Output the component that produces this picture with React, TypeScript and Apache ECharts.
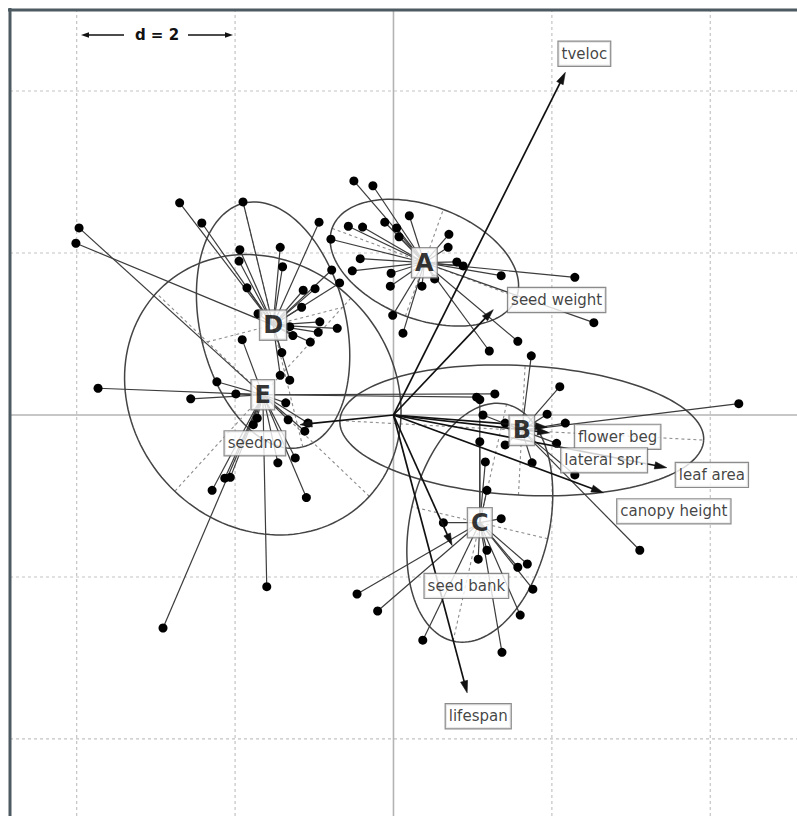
import React, { useEffect, useRef } from "react";
import * as echarts from "echarts";

// Row scores on PCA axes 1 and 2, grouped by class
const pointsA: [number, number][] = [
  [-0.5, 2.89], [-0.26, 2.83], [-0.57, 2.33], [-0.39, 2.32], [-0.11, 2.38], [0.04, 2.31],
  [0.07, 2.2], [0.2, 2.46], [0.7, 2.23], [0.69, 2.07], [-0.79, 2.17], [-0.42, 1.93],
  [0.8, 1.89], [0.88, 1.84], [-0.03, 1.75], [-0.04, 1.59], [0.36, 1.59], [0.52, 1.68],
  [1.36, 1.72], [2.29, 1.7], [2.53, 1.14], [1.57, 0.91], [1.21, 0.79], [-0.01, 1.23],
  [0.12, 1.01], [-0.52, 1.78],
];
const pointsB: [number, number][] = [
  [1.74, 0.73], [2.1, 0.35], [4.36, 0.14], [1.94, 0.01], [2.17, -0.1], [2.06, -0.35],
  [2.29, -0.74], [1.75, -0.59], [1.13, 0.0], [1.41, -0.1], [1.41, -0.37], [3.11, -1.67],
];
const pointsC: [number, number][] = [
  [0.63, -1.33], [1.36, -1.28], [1.07, -1.78], [1.18, -1.67], [1.57, -1.88], [1.69, -1.84],
  [1.76, -2.15], [1.6, -2.47], [1.37, -2.93], [0.37, -2.78], [-0.46, -2.21], [-0.2, -2.42],
  [1.09, -0.33], [1.16, -0.58], [1.18, -0.93], [1.09, 0.19],
];
const pointsD: [number, number][] = [
  [-2.7, 2.62], [-2.42, 2.37], [-4.01, 2.12], [-1.9, 2.63], [-1.94, 2.04], [-1.95, 1.9],
  [-1.85, 1.57], [-1.43, 2.07], [-1.4, 1.83], [-0.94, 2.38], [-1.14, 1.54], [-0.99, 1.56],
  [-1.16, 1.33], [-0.93, 1.15], [-0.95, 1.02], [-1.05, 0.9], [-0.71, 1.07], [-1.27, 0.98],
  [-1.31, 1.09], [-1.71, 1.25], [-0.78, 1.79], [-0.68, 1.63], [-1.41, 0.77], [-1.43, 0.49],
  [-1.31, 0.43],
];
const pointsE: [number, number][] = [
  [-3.97, 2.31], [-3.73, 0.33], [-2.56, 0.2], [-2.23, 0.41], [-1.99, 0.26], [-1.91, 0.93],
  [-1.72, -0.04], [-1.77, -0.12], [-2.13, -0.78], [-2.06, -0.77], [-2.29, -0.93], [-2.91, -2.63],
  [-1.6, -2.12], [-1.46, -0.59], [-1.24, -0.53], [-1.1, -1.02], [-1.36, 0.15], [-1.33, -0.06],
  [-1.08, -0.1], [-1.12, -0.2], [1.05, 0.22], [1.28, 0.26],
];

// Class centres
const classLabels = ["A", "B", "C", "D", "E"];
const classCentreX = [0.39, 1.62, 1.09, -1.52, -1.65];
const classCentreY = [1.88, -0.19, -1.33, 1.11, 0.25];

// Inertia ellipses: semi-axes and orientation (degrees)
const ellipseMajor = [1.24, 2.3, 1.5, 1.55, 1.84];
const ellipseMinor = [0.7, 0.8, 0.88, 0.92, 1.63];
const ellipseAngle = [-20, -3, 77, 104, 137];

// Variable loadings (arrows) and their label positions
const variableNames = [
  "tveloc", "seed weight", "flower beg", "lateral spr.", "leaf area",
  "canopy height", "seedno", "seed bank", "lifespan",
];
const arrowEndX = [2.17, 1.26, 1.94, 1.97, 3.45, 2.65, -1.18, 0.74, 0.93];
const arrowEndY = [4.23, 1.3, -0.15, -0.22, -0.65, -0.96, -0.12, -1.61, -3.43];
const labelPosX = [2.41, 2.06, 2.83, 2.66, 4.02, 3.54, -1.75, 0.92, 1.07];
const labelPosY = [4.46, 1.42, -0.27, -0.56, -0.74, -1.19, -0.35, -2.11, -3.72];

// Grid every d = 2
const gridTicks = [-4, -2, 0, 2, 4];

const X_MIN = -4.842;
const X_MAX = 5.095;
const Y_MIN = -4.951;
const Y_MAX = 5;

const groups = [pointsA, pointsB, pointsC, pointsD, pointsE];

export default function App() {
  const ref = useRef<HTMLDivElement>(null);

  useEffect(() => {
    if (!ref.current) return;
    const chart = echarts.init(ref.current, undefined, { renderer: "svg" });

    const gridData: number[][] = [];
    gridTicks.forEach((v) => {
      gridData.push([0, v]);
      gridData.push([1, v]);
    });

    const starData: number[][] = [];
    groups.forEach((pts, k) =>
      pts.forEach((p) => starData.push([p[0], p[1], classCentreX[k], classCentreY[k]]))
    );
    const allPoints = groups.flat();

    const ellipseData = classLabels.map((_, k) => [
      classCentreX[k], classCentreY[k], ellipseMajor[k], ellipseMinor[k], ellipseAngle[k],
    ]);

    const arrowData = arrowEndX.map((x, i) => [x, arrowEndY[i]]);

    const renderGrid = (_p: any, api: any) => {
      const orient = api.value(0);
      const v = api.value(1);
      const a = orient === 0 ? api.coord([v, Y_MIN]) : api.coord([X_MIN, v]);
      const b = orient === 0 ? api.coord([v, Y_MAX]) : api.coord([X_MAX, v]);
      const style =
        v === 0
          ? { stroke: "#b4b4b4", lineWidth: 1.6 }
          : { stroke: "#c4c4c4", lineWidth: 1.2, lineDash: [3, 3] };
      return { type: "line", shape: { x1: a[0], y1: a[1], x2: b[0], y2: b[1] }, style };
    };

    const renderEllipse = (_p: any, api: any) => {
      const cx = api.value(0);
      const cy = api.value(1);
      const a = api.value(2);
      const b = api.value(3);
      const th = (api.value(4) * Math.PI) / 180;
      const c = Math.cos(th);
      const s = Math.sin(th);
      const at = (u: number, w: number) => api.coord([cx + u * c - w * s, cy + u * s + w * c]);
      const pts: number[][] = [];
      for (let i = 0; i <= 144; i++) {
        const t = (i / 144) * Math.PI * 2;
        pts.push(at(a * Math.cos(t), b * Math.sin(t)));
      }
      const p1 = at(-a, 0);
      const p2 = at(a, 0);
      const q1 = at(0, -b);
      const q2 = at(0, b);
      const axisStyle = { stroke: "#8c8c8c", lineWidth: 1.1, lineDash: [3, 3] };
      return {
        type: "group",
        children: [
          { type: "line", shape: { x1: p1[0], y1: p1[1], x2: p2[0], y2: p2[1] }, style: axisStyle },
          { type: "line", shape: { x1: q1[0], y1: q1[1], x2: q2[0], y2: q2[1] }, style: axisStyle },
          { type: "polyline", shape: { points: pts }, style: { stroke: "#444", lineWidth: 1.5, fill: "none" } },
        ],
      };
    };

    const renderStar = (_p: any, api: any) => {
      const a = api.coord([api.value(0), api.value(1)]);
      const b = api.coord([api.value(2), api.value(3)]);
      return {
        type: "line",
        shape: { x1: a[0], y1: a[1], x2: b[0], y2: b[1] },
        style: { stroke: "#3c3c3c", lineWidth: 1.2 },
      };
    };

    const renderArrow = (_p: any, api: any) => {
      const o = api.coord([0, 0]);
      const e = api.coord([api.value(0), api.value(1)]);
      const dx = e[0] - o[0];
      const dy = e[1] - o[1];
      const len = Math.hypot(dx, dy);
      const ux = dx / len;
      const uy = dy / len;
      const hl = 12;
      const hw = 3.6;
      const bx = e[0] - ux * hl;
      const by = e[1] - uy * hl;
      return {
        type: "group",
        children: [
          { type: "line", shape: { x1: o[0], y1: o[1], x2: bx + ux * 2, y2: by + uy * 2 }, style: { stroke: "#111", lineWidth: 1.7 } },
          {
            type: "polygon",
            shape: { points: [[e[0], e[1]], [bx - uy * hw, by + ux * hw], [bx + uy * hw, by - ux * hw]] },
            style: { fill: "#111", stroke: "#111", lineWidth: 0.6 },
          },
        ],
      };
    };

    chart.setOption({
      animation: false,
      backgroundColor: "#ffffff",
      grid: { left: 10, top: 10, right: 0, bottom: 0, containLabel: false },
      xAxis: { type: "value", min: X_MIN, max: X_MAX, show: false },
      yAxis: { type: "value", min: Y_MIN, max: Y_MAX, show: false },
      series: [
        { type: "custom", name: "grid", silent: true, z: 1, clip: true, renderItem: renderGrid, data: gridData },
        { type: "custom", name: "ellipses", silent: true, z: 2, clip: true, renderItem: renderEllipse, data: ellipseData },
        { type: "custom", name: "stars", silent: true, z: 3, clip: true, renderItem: renderStar, data: starData },
        {
          type: "scatter",
          name: "rows",
          silent: true,
          z: 4,
          symbol: "circle",
          symbolSize: 9,
          itemStyle: { color: "#000", opacity: 1 },
          data: allPoints,
        },
        { type: "custom", name: "arrows", silent: true, z: 5, clip: true, renderItem: renderArrow, data: arrowData },
        {
          type: "scatter",
          name: "classes",
          silent: true,
          z: 6,
          symbolSize: 1,
          itemStyle: { color: "rgba(0,0,0,0)" },
          label: {
            show: true,
            position: "inside",
            formatter: "{b}",
            fontFamily: "DejaVu Sans",
            fontWeight: "bold",
            fontSize: 24,
            lineHeight: 24,
            color: "#000",
            backgroundColor: "#ffffff",
            borderColor: "#7a7a7a",
            borderWidth: 1.3,
            padding: [3, 3, 2, 3],
          },
          data: classLabels.map((n, k) => ({ name: n, value: [classCentreX[k], classCentreY[k]] })),
        },
        {
          type: "scatter",
          name: "variables",
          silent: true,
          z: 7,
          symbolSize: 1,
          itemStyle: { color: "rgba(0,0,0,0)" },
          label: {
            show: true,
            position: "inside",
            formatter: "{b}",
            fontFamily: "DejaVu Sans",
            fontSize: 15,
            lineHeight: 17,
            color: "#111",
            backgroundColor: "#ffffff",
            borderColor: "#6e6e6e",
            borderWidth: 1.2,
            padding: [4, 3, 3, 3],
          },
          data: variableNames.map((n, i) => ({ name: n, value: [labelPosX[i], labelPosY[i]] })),
        },
      ],
      graphic: [
        { type: "line", shape: { x1: 8, y1: 10, x2: 797, y2: 10 }, style: { stroke: "#4d5a62", lineWidth: 3 }, z: 20 },
        { type: "line", shape: { x1: 10, y1: 8, x2: 10, y2: 816 }, style: { stroke: "#4d5a62", lineWidth: 3 }, z: 20 },
        { type: "line", shape: { x1: 86, y1: 35, x2: 124, y2: 35 }, style: { stroke: "#111", lineWidth: 1.3 }, z: 20 },
        { type: "polygon", shape: { points: [[81, 35], [89, 32.3], [89, 37.7]] }, style: { fill: "#111" }, z: 20 },
        { type: "line", shape: { x1: 188, y1: 35, x2: 228, y2: 35 }, style: { stroke: "#111", lineWidth: 1.3 }, z: 20 },
        { type: "polygon", shape: { points: [[233, 35], [225, 32.3], [225, 37.7]] }, style: { fill: "#111" }, z: 20 },
        {
          type: "text",
          x: 157,
          y: 35,
          z: 20,
          style: {
            text: "d = 2",
            fontFamily: "DejaVu Sans",
            fontWeight: "bold",
            fontSize: 15,
            fill: "#111",
            textAlign: "center",
            textVerticalAlign: "middle",
          },
        },
      ],
    });

    return () => chart.dispose();
  }, []);

  return (
    <div
      ref={ref}
      style={{ position: "absolute", left: 0, top: 0, width: 797, height: 816, background: "#fff" }}
    />
  );
}
